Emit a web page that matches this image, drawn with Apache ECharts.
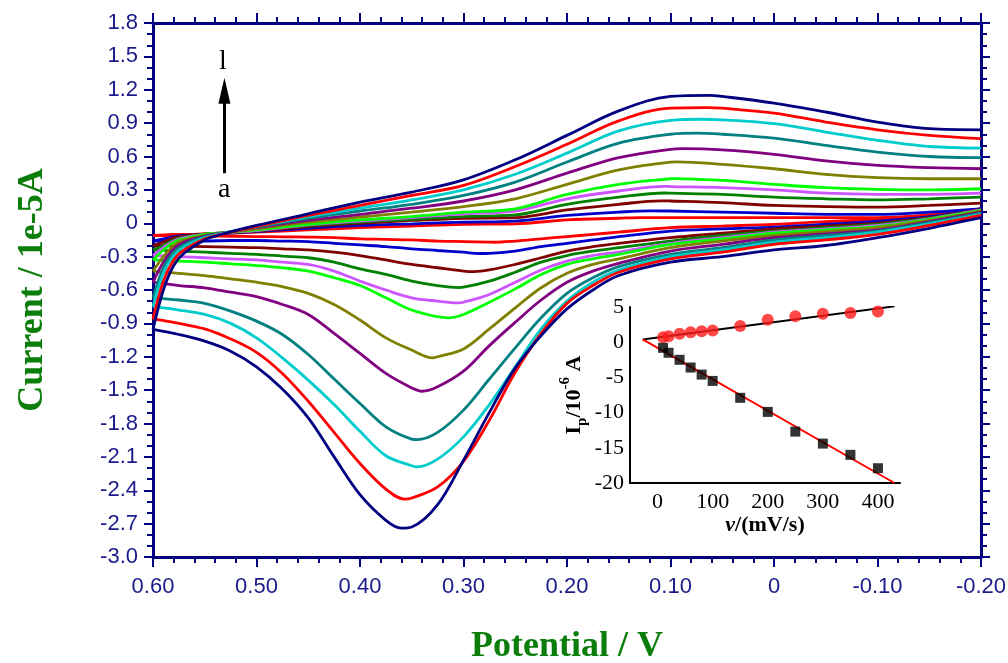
<!DOCTYPE html>
<html>
<head>
<meta charset="utf-8">
<script src="https://cdn.jsdelivr.net/npm/echarts@6/dist/echarts.min.js"></script>
<style>
  html, body { margin: 0; padding: 0; background: #fff; }
  #chart { width: 1008px; height: 663px; }
</style>
</head>
<body>
<div id="chart"></div>
<script>
// CV curves a..l, two sweeps each (current in 1e-5 A)
var curveNames = ['a', 'b', 'c', 'd', 'e', 'f', 'g', 'h', 'i', 'j', 'k', 'l'];
var curveColors = ['#ff0000', '#0000cc', '#800000', '#008000', '#cc55ff', '#00ff00',
                   '#808000', '#800080', '#008080', '#00cccc', '#ff0000', '#000080'];

// forward sweep 0.60 -> -0.20 V (reduction peak)
var forwardE = [0.60, 0.575, 0.55, 0.525, 0.50, 0.475, 0.45, 0.425, 0.40, 0.375, 0.35, 0.325,
                0.30, 0.275, 0.25, 0.225, 0.20, 0.175, 0.15, 0.10, 0.05, 0.00, -0.05, -0.10, -0.15, -0.20];
var forwardI = [
  [-0.11, -0.112, -0.115, -0.117, -0.12, -0.122, -0.125, -0.13, -0.14, -0.145, -0.15, -0.16, -0.165, -0.17, -0.16, -0.14, -0.12, -0.10, -0.08, -0.04, -0.025, -0.01, 0.015, 0.035, 0.075, 0.13],
  [-0.16, -0.16, -0.16, -0.155, -0.155, -0.16, -0.165, -0.18, -0.195, -0.21, -0.23, -0.245, -0.26, -0.27, -0.25, -0.21, -0.18, -0.15, -0.12, -0.07, -0.05, -0.035, -0.01, 0.02, 0.06, 0.13],
  [-0.20, -0.205, -0.21, -0.215, -0.22, -0.23, -0.24, -0.26, -0.29, -0.33, -0.37, -0.40, -0.43, -0.42, -0.37, -0.31, -0.25, -0.21, -0.18, -0.13, -0.09, -0.05, -0.025, 0.00, 0.05, 0.125],
  [-0.24, -0.25, -0.26, -0.27, -0.28, -0.295, -0.31, -0.35, -0.41, -0.46, -0.52, -0.56, -0.575, -0.52, -0.44, -0.35, -0.29, -0.25, -0.22, -0.16, -0.11, -0.07, -0.04, -0.01, 0.045, 0.12],
  [-0.29, -0.30, -0.31, -0.32, -0.33, -0.35, -0.37, -0.43, -0.52, -0.60, -0.67, -0.70, -0.71, -0.64, -0.53, -0.42, -0.34, -0.29, -0.26, -0.18, -0.13, -0.08, -0.05, -0.02, 0.04, 0.12],
  [-0.33, -0.34, -0.35, -0.365, -0.38, -0.40, -0.43, -0.49, -0.56, -0.67, -0.78, -0.84, -0.82, -0.71, -0.59, -0.46, -0.37, -0.32, -0.28, -0.19, -0.14, -0.09, -0.06, -0.03, 0.035, 0.115],
  [-0.43, -0.45, -0.47, -0.50, -0.53, -0.57, -0.63, -0.73, -0.87, -1.03, -1.14, -1.20, -1.13, -0.95, -0.76, -0.58, -0.45, -0.37, -0.32, -0.22, -0.16, -0.11, -0.075, -0.04, 0.025, 0.11],
  [-0.53, -0.56, -0.58, -0.62, -0.66, -0.73, -0.82, -0.99, -1.17, -1.35, -1.48, -1.47, -1.33, -1.10, -0.89, -0.69, -0.53, -0.43, -0.36, -0.25, -0.19, -0.13, -0.095, -0.06, 0.015, 0.10],
  [-0.67, -0.69, -0.72, -0.79, -0.88, -1.00, -1.18, -1.40, -1.62, -1.83, -1.94, -1.88, -1.68, -1.40, -1.12, -0.85, -0.63, -0.49, -0.39, -0.28, -0.22, -0.15, -0.11, -0.07, 0.005, 0.09],
  [-0.75, -0.78, -0.82, -0.90, -1.03, -1.21, -1.41, -1.63, -1.87, -2.09, -2.18, -2.12, -1.92, -1.63, -1.29, -0.95, -0.70, -0.53, -0.42, -0.30, -0.24, -0.17, -0.13, -0.08, -0.005, 0.08],
  [-0.86, -0.90, -0.95, -1.04, -1.16, -1.35, -1.60, -1.88, -2.16, -2.39, -2.47, -2.37, -2.14, -1.77, -1.34, -0.99, -0.72, -0.56, -0.44, -0.32, -0.26, -0.19, -0.15, -0.10, -0.02, 0.07],
  [-0.955, -1.00, -1.06, -1.15, -1.29, -1.49, -1.75, -2.10, -2.44, -2.67, -2.73, -2.53, -2.13, -1.70, -1.30, -1.01, -0.77, -0.60, -0.47, -0.35, -0.30, -0.24, -0.20, -0.13, -0.045, 0.05]
];
// reduction peak of each curve (potential, current)
var forwardPeakE = [0.27, 0.285, 0.29, 0.305, 0.305, 0.315, 0.33, 0.34, 0.345, 0.345, 0.357, 0.36];
var forwardPeakI = [-0.171, -0.272, -0.435, -0.578, -0.715, -0.85, -1.21, -1.51, -1.945, -2.19, -2.48, -2.74];

// reverse sweep -0.20 -> 0.60 V (oxidation peak)
var reverseE = [-0.20, -0.15, -0.10, -0.05, 0.00, 0.05, 0.10, 0.15, 0.20, 0.25, 0.30, 0.35,
                0.40, 0.45, 0.50, 0.53, 0.55, 0.57, 0.58, 0.59, 0.60];
var reverseI = [
  [0.13, 0.075, 0.05, 0.05, 0.05, 0.05, 0.05, 0.045, 0.03, -0.005, -0.01, -0.025, -0.04, -0.06, -0.08, -0.09, -0.095, -0.10, -0.10, -0.105, -0.11],
  [0.13, 0.10, 0.08, 0.08, 0.09, 0.10, 0.11, 0.10, 0.07, 0.02, 0.01, -0.005, -0.02, -0.045, -0.075, -0.09, -0.10, -0.11, -0.12, -0.14, -0.16],
  [0.18, 0.16, 0.145, 0.15, 0.16, 0.185, 0.20, 0.17, 0.12, 0.05, 0.045, 0.025, 0.0, -0.03, -0.07, -0.085, -0.095, -0.115, -0.13, -0.17, -0.20],
  [0.235, 0.22, 0.21, 0.22, 0.235, 0.26, 0.27, 0.235, 0.17, 0.075, 0.06, 0.035, 0.01, -0.02, -0.065, -0.085, -0.10, -0.125, -0.15, -0.20, -0.24],
  [0.27, 0.26, 0.26, 0.27, 0.30, 0.32, 0.33, 0.29, 0.22, 0.11, 0.085, 0.05, 0.02, -0.015, -0.065, -0.085, -0.10, -0.13, -0.16, -0.22, -0.29],
  [0.31, 0.30, 0.305, 0.32, 0.35, 0.385, 0.40, 0.35, 0.26, 0.13, 0.10, 0.06, 0.03, -0.01, -0.06, -0.085, -0.10, -0.14, -0.17, -0.24, -0.33],
  [0.40, 0.40, 0.41, 0.44, 0.49, 0.53, 0.55, 0.48, 0.35, 0.22, 0.15, 0.10, 0.055, 0.01, -0.05, -0.085, -0.11, -0.15, -0.20, -0.30, -0.43],
  [0.49, 0.50, 0.52, 0.56, 0.62, 0.66, 0.665, 0.59, 0.45, 0.30, 0.20, 0.135, 0.08, 0.025, -0.04, -0.085, -0.115, -0.17, -0.23, -0.35, -0.53],
  [0.59, 0.60, 0.64, 0.70, 0.765, 0.80, 0.80, 0.72, 0.55, 0.37, 0.25, 0.17, 0.11, 0.045, -0.035, -0.085, -0.12, -0.19, -0.26, -0.40, -0.67],
  [0.675, 0.69, 0.745, 0.82, 0.895, 0.93, 0.925, 0.83, 0.63, 0.44, 0.30, 0.21, 0.135, 0.06, -0.03, -0.085, -0.13, -0.21, -0.29, -0.45, -0.75],
  [0.76, 0.79, 0.84, 0.91, 0.99, 1.035, 1.035, 0.92, 0.71, 0.51, 0.34, 0.25, 0.16, 0.07, -0.03, -0.09, -0.14, -0.24, -0.33, -0.52, -0.86],
  [0.84, 0.85, 0.91, 1.00, 1.08, 1.14, 1.14, 1.01, 0.79, 0.57, 0.39, 0.28, 0.19, 0.085, -0.02, -0.09, -0.15, -0.27, -0.38, -0.60, -0.955]
];
// oxidation peak of each curve (potential, current)
var reversePeakE = [0.13, 0.12, 0.11, 0.105, 0.105, 0.095, 0.094, 0.088, 0.075, 0.07, 0.065, 0.062];
var reversePeakI = [0.051, 0.112, 0.202, 0.272, 0.332, 0.402, 0.552, 0.67, 0.81, 0.935, 1.04, 1.15];

// inset: peak current vs scan rate
var scanRate = [10, 20, 40, 60, 80, 100, 150, 200, 250, 300, 350, 400];
var anodicPeak = [0.7, 0.85, 1.2, 1.4, 1.55, 1.65, 2.3, 3.2, 3.7, 4.05, 4.15, 4.35];
var cathodicPeak = [-0.8, -1.5, -2.5, -3.6, -4.6, -5.5, -7.9, -9.9, -12.7, -14.4, -16.0, -17.9];
var fitRate = [-27, 430];
var anodicFit = [0.4, 5.1];
var cathodicFit = [0.4, -20.0];

// arrow a -> l
var arrowE = 0.531;
var arrowI = [0.45, 1.19];

var navy = '#000080';
var labelBlue = '#1a1a8a';
var green = '#0a7d0a';
var serif = '"Liberation Serif", "Times New Roman", serif';
var sans = '"Liberation Sans", Arial, sans-serif';

function zip(xs, ys) {
  return xs.map(function (x, i) { return [x, ys[i]]; });
}

// sweep points with the peak point put in its place along the potential axis
function sweep(xs, ys, px, py, descending) {
  var pts = zip(xs, ys);
  pts.push([px, py]);
  pts.sort(function (p, q) { return descending ? q[0] - p[0] : p[0] - q[0]; });
  return pts;
}

var chart = echarts.init(document.getElementById('chart'), null, { renderer: 'canvas' });

var series = [];
curveNames.forEach(function (name, k) {
  var fwd = sweep(forwardE, forwardI[k], forwardPeakE[k], forwardPeakI[k], true);
  var rev = sweep(reverseE, reverseI[k], reversePeakE[k], reversePeakI[k], false);
  [fwd, rev].forEach(function (pts) {
    series.push({
      name: name,
      type: 'line',
      xAxisIndex: 0,
      yAxisIndex: 0,
      data: pts,
      smooth: 0.35,
      showSymbol: false,
      silent: true,
      lineStyle: { color: curveColors[k], width: 2.8 },
      z: 3 + k
    });
  });
});

// arrow annotation
series[0].markLine = {
  silent: true,
  symbol: ['none', 'triangle'],
  symbolSize: [12, 26],
  label: { show: false },
  lineStyle: { color: '#000', width: 3, type: 'solid' },
  data: [[{ coord: [arrowE, arrowI[0]] }, { coord: [arrowE, arrowI[1]] }]]
};

// inset fits and points
series.push({
  type: 'line', xAxisIndex: 2, yAxisIndex: 2, data: zip(fitRate, anodicFit),
  showSymbol: false, silent: true, lineStyle: { color: '#000', width: 2 }, z: 20
});
series.push({
  type: 'line', xAxisIndex: 2, yAxisIndex: 2, data: zip(fitRate, cathodicFit),
  showSymbol: false, silent: true, lineStyle: { color: '#ff0000', width: 2 }, z: 20
});
series.push({
  type: 'scatter', xAxisIndex: 2, yAxisIndex: 2, data: zip(scanRate, anodicPeak),
  symbol: 'circle', symbolSize: 12, itemStyle: { color: '#ff1a1a' }, silent: true, z: 21
});
series.push({
  type: 'scatter', xAxisIndex: 2, yAxisIndex: 2, data: zip(scanRate, cathodicPeak),
  symbol: 'rect', symbolSize: 10, itemStyle: { color: '#000' }, silent: true, z: 21
});

function frameX(pos, showLabel) {
  return {
    type: 'value', gridIndex: 0, position: pos,
    min: -0.2, max: 0.6, interval: 0.1, inverse: true,
    axisLine: { show: true, onZero: false, lineStyle: { color: navy, width: 3 } },
    axisTick: { show: true, length: 10, lineStyle: { color: navy, width: 2 } },
    minorTick: { show: true, splitNumber: 5, length: 6, lineStyle: { color: navy, width: 2 } },
    splitLine: { show: false },
    axisLabel: {
      show: showLabel, margin: 19, color: labelBlue, fontSize: 22, fontFamily: sans,
      formatter: function (v) { return Math.abs(v) < 1e-9 ? '0' : v.toFixed(2); }
    }
  };
}

function frameY(pos, showLabel) {
  return {
    type: 'value', gridIndex: 0, position: pos,
    min: -3.0, max: 1.8, interval: 0.3,
    axisLine: { show: true, onZero: false, lineStyle: { color: navy, width: 3 } },
    axisTick: { show: true, length: 9, lineStyle: { color: navy, width: 2 } },
    minorTick: { show: true, splitNumber: 3, length: 6, lineStyle: { color: navy, width: 2 } },
    splitLine: { show: false },
    axisLabel: {
      show: showLabel, margin: 15, color: labelBlue, fontSize: 22, fontFamily: sans,
      formatter: function (v) { return Math.abs(v) < 1e-9 ? '0' : v.toFixed(1); }
    }
  };
}

var xMain = frameX('bottom', true);
xMain.name = 'Potential / V';
xMain.nameLocation = 'middle';
xMain.nameGap = 72;
xMain.nameTextStyle = { color: green, fontSize: 36, fontWeight: 'bold', fontFamily: serif };

var yMain = frameY('left', true);
yMain.name = 'Current / 1e-5A';
yMain.nameLocation = 'middle';
yMain.nameRotate = 90;
yMain.nameGap = 102;
yMain.nameTextStyle = { color: green, fontSize: 36, fontWeight: 'bold', fontFamily: serif };

chart.setOption({
  animation: false,
  backgroundColor: '#fff',
  grid: [
    { left: 153, top: 23, width: 828, height: 534, outerBoundsMode: 'none', containLabel: false },
    { left: 630, top: 307, width: 270, height: 176, outerBoundsMode: 'none', containLabel: false }
  ],
  xAxis: [
    xMain,
    frameX('top', false),
    {
      type: 'value', gridIndex: 1, min: -50, max: 440, interval: 50,
      axisLine: { onZero: false, lineStyle: { color: '#000', width: 2 } },
      axisTick: { show: false },
      splitLine: { show: false },
      axisLabel: {
        margin: 8, showMaxLabel: false, color: '#000', fontSize: 22, fontFamily: serif,
        formatter: function (v) { return v % 100 === 0 ? String(v) : ''; }
      },
      name: '{i|v}{b|/(mV/s)}',
      nameLocation: 'middle',
      nameGap: 30,
      nameTextStyle: {
        rich: {
          i: { fontSize: 22, fontWeight: 'bold', fontStyle: 'italic', fontFamily: serif, color: '#000' },
          b: { fontSize: 22, fontWeight: 'bold', fontFamily: serif, color: '#000' }
        }
      }
    }
  ],
  yAxis: [
    yMain,
    frameY('right', false),
    {
      type: 'value', gridIndex: 1, min: -20, max: 5, interval: 5,
      axisLine: { onZero: false, lineStyle: { color: '#000', width: 2 } },
      axisTick: { show: false },
      splitLine: { show: false },
      axisLabel: { margin: 6, color: '#000', fontSize: 22, fontFamily: serif },
      name: '{b|I}{s|p}{b|/10}{u|-6}{b| A}',
      nameLocation: 'middle',
      nameRotate: 90,
      nameGap: 40,
      nameTextStyle: {
        rich: {
          b: { fontSize: 22, fontWeight: 'bold', fontFamily: serif, color: '#000', lineHeight: 32 },
          s: { fontSize: 15, fontWeight: 'bold', fontFamily: serif, color: '#000', verticalAlign: 'bottom', lineHeight: 15 },
          u: { fontSize: 15, fontWeight: 'bold', fontFamily: serif, color: '#000', verticalAlign: 'top', lineHeight: 15 }
        }
      }
    }
  ],
  graphic: [
    { type: 'text', left: 219, top: 48, style: { text: 'l', font: '28px ' + serif, fill: '#000' } },
    { type: 'text', left: 218, top: 176, style: { text: 'a', font: '28px ' + serif, fill: '#000' } }
  ],
  series: series
});
</script>
</body>
</html>
